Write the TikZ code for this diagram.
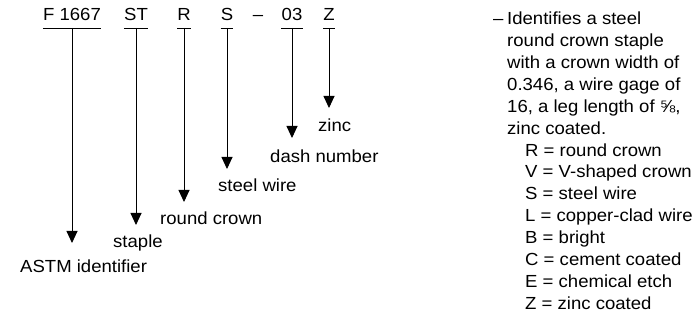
\documentclass[tikz,border=0pt]{standalone}
\usepackage{fontspec}
\setmainfont{Liberation Sans}[FakeStretch=1.06]
\usetikzlibrary{arrows.meta}
\begin{document}
\begin{tikzpicture}[x=1pt,y=1pt,
  lbl/.style={inner sep=0pt, font=\fontsize{17.5}{21.85}\selectfont},
  arr/.style={line width=0.9pt, -{Triangle[width=11pt,length=12pt]}},
  uline/.style={line width=0.9pt}]
\useasboundingbox (0,0) rectangle (700,320);
% code letters
\node[lbl,anchor=base] (f)  at (72,299)  {F 1667};
\node[lbl,anchor=base] (st) at (136,299) {ST};
\node[lbl,anchor=base] (r)  at (184,299) {R};
\node[lbl,anchor=base] (s)  at (227,299) {S};
\node[lbl,anchor=base] (dsh) at (258,299) {–};
\node[lbl,anchor=base] (n)  at (292,299) {03};
\node[lbl,anchor=base] (z)  at (329,299) {Z};
\coordinate (ul) at (0,292);
\foreach \k in {f,st,r,s,n,z}{
  \draw[uline] (\k.west |- ul) -- (\k.east |- ul);
}
% arrow tips
\coordinate (ftip)  at (72,77);
\coordinate (sttip) at (136,95);
\coordinate (rtip)  at (184,118);
\coordinate (stip)  at (227,151);
\coordinate (ntip)  at (292,182);
\coordinate (ztip)  at (329,212);
\draw[arr] (f.center |- ul) -- (ftip);
\draw[arr] (st.center |- ul) -- (sttip);
\draw[arr] (r.center |- ul) -- (rtip);
\draw[arr] (s.center |- ul) -- (stip);
\draw[arr] (n.center |- ul) -- (ntip);
\draw[arr] (z.center |- ul) -- (ztip);
% meanings
\node[lbl,anchor=base west] (lz) at (318,188) {zinc};
\node[lbl,anchor=base west] (ln) at (270,157) {dash number};
\node[lbl,anchor=base west] (ls) at (218,128) {steel wire};
\node[lbl,anchor=base west] (lr) at (160,95)  {round crown};
\node[lbl,anchor=base west] (lst) at (113,72) {staple};
\node[lbl,anchor=base west] (lf) at (20,47)   {ASTM identifier};
% description
\node[lbl,anchor=base west] (d0) at (493,295) {–};
\foreach \t [count=\i from 0] in {Identifies a steel, round crown staple, with a crown width of, {0.346, a wire gage of}, {16, a leg length of ⅝,}, zinc coated.}{
  \node[lbl,anchor=base west] (desc\i) at (507,295-21.85*\i) {\t};
}
\foreach \t [count=\i from 6] in {R = round crown, V = V-shaped crown, S = steel wire, L = copper-clad wire, B = bright, C = cement coated, E = chemical etch, Z = zinc coated}{
  \node[lbl,anchor=base west] (leg\i) at (525,295-21.85*\i) {\t};
}
\end{tikzpicture}
\end{document}
